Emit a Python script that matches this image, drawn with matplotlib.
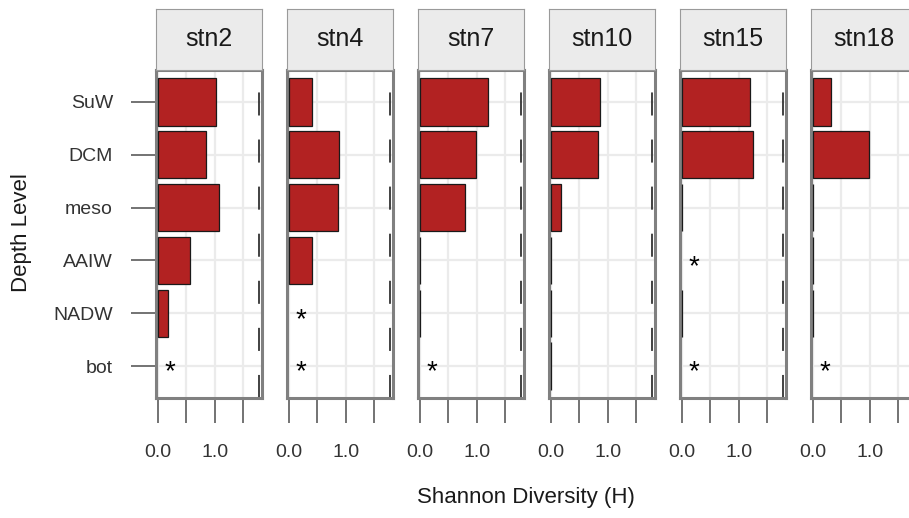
import numpy as np
import matplotlib
matplotlib.use("Agg")
import matplotlib.pyplot as plt

levels = ["SuW", "DCM", "meso", "AAIW", "NADW", "bot"]
stations = ["stn2", "stn4", "stn7", "stn10", "stn15", "stn18"]

# Shannon diversity per depth level (SuW..bot), nan = no sample (*)
stn2 = [1.02, 0.85, 1.07, 0.57, 0.18, np.nan]
stn4 = [0.41, 0.89, 0.86, 0.40, np.nan, np.nan]
stn7 = [1.21, 0.99, 0.80, 0.0, 0.0, np.nan]
stn10 = [0.87, 0.83, 0.17, 0.0, 0.0, 0.0]
stn15 = [1.20, 1.26, 0.0, np.nan, 0.0, np.nan]
stn18 = [0.32, 0.98, 0.0, 0.0, 0.0, np.nan]
values = [stn2, stn4, stn7, stn10, stn15, stn18]

ref_line = 1.78
xticks = [0.0, 0.5, 1.0, 1.5]
xticklabels = ["0.0", "", "1.0", ""]

plt.rcParams['font.family'] = ['Liberation Sans', 'DejaVu Sans']
plt.rcParams['lines.scale_dashes'] = False

W, H = 909.0, 518.0
fig = plt.figure(figsize=(W / 100, H / 100), dpi=100)

ypos = np.arange(len(levels))[::-1]
border = "#808080"
tick_col = "#4d4d4d"

for i in range(len(stations)):
    left = 156 + 131 * i
    ax = fig.add_axes([left / W, (H - 398) / H, 106 / W, 328 / H])
    vals = values[i]
    for y, v in zip(ypos, vals):
        if np.isnan(v):
            ax.text(0.2, y - 0.12, "*", ha="center", va="center", fontsize=20, color="black")
        else:
            ax.barh(y, v, height=0.9, color="#b22222", edgecolor="#1a1a1a", linewidth=0.9, zorder=3)
    ax.axvline(ref_line, color="#333333", linewidth=1.3, dashes=(16.6, 17.3), zorder=2)
    ax.set_xlim(-0.04, 1.84)
    ax.set_ylim(-0.6, 5.6)
    ax.set_xticks(xticks)
    ax.set_xticklabels(xticklabels)
    ax.set_yticks(ypos)
    ax.set_yticklabels(levels)
    ax.set_axisbelow(True)
    ax.grid(True, color="#ebebeb", linewidth=1.6)
    for s in ax.spines.values():
        s.set_color(border)
        s.set_linewidth(2.2)
    ax.tick_params(axis="x", length=18, width=1.1, color=tick_col, pad=15,
                   labelsize=14, labelcolor="#333333")
    ax.tick_params(axis="y", length=18, width=1.1, color=tick_col, pad=13,
                   labelsize=14, labelcolor="#333333")
    if i > 0:
        ax.tick_params(axis="y", left=False, labelleft=False)

    # facet strip
    sax = fig.add_axes([left / W, (H - 70) / H, 106 / W, 61 / H])
    sax.set_facecolor("#ebebeb")
    sax.set_xticks([])
    sax.set_yticks([])
    for s in sax.spines.values():
        s.set_color("#9a9a9a")
        s.set_linewidth(0.8)
    sax.text(0.5, 0.5, stations[i], ha="center", va="center", fontsize=18,
             color="#1a1a1a", transform=sax.transAxes)

fig.text(526 / W, (H - 497) / H, "Shannon Diversity (H)", ha="center", va="center",
         fontsize=16, color="#1a1a1a")
fig.text(22 / W, (H - 233) / H, "Depth Level", ha="center", va="center",
         rotation=90, fontsize=16, color="#1a1a1a")

fig.savefig("out.png", dpi=100)
